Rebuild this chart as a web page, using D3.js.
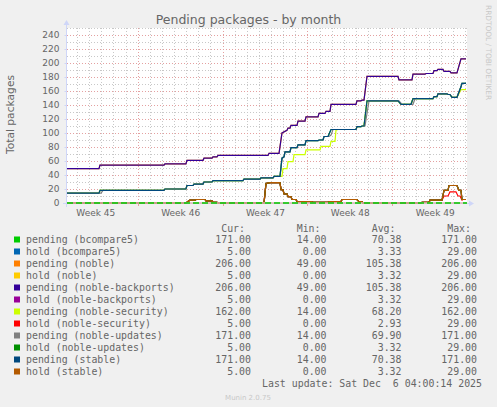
<!DOCTYPE html>
<html><head><meta charset="utf-8">
<script src="https://cdn.jsdelivr.net/npm/d3@7"></script>
<style>
html,body{margin:0;padding:0;background:#F0F0F0;}
svg{display:block;}
text{font-family:"DejaVu Sans",sans-serif;fill:#666;}
.mono{font-family:"DejaVu Sans Mono",monospace;white-space:pre;}
</style></head><body>
<svg id="c" width="497" height="407"></svg>
<script>
const title = "Pending packages - by month";
const yLabel = "Total packages";
const yTicks = [0,20,40,60,80,100,120,140,160,180,200,220,240];
const startTime = "2025-11-03 04:00:14";
const endTime = "2025-12-06 04:00:14";
const lastUpdate = "Last update: Sat Dec  6 04:00:14 2025";
const footer = "Munin 2.0.75";
const sideText = "RRDTOOL / TOBI OETIKER";

const pendingStable = [
["11-03 04:00",14],["11-05 19:20",14],["11-05 21:20",18],["11-11 04:00",18],["11-11 06:00",20],
["11-12 23:30",20],["11-13 01:30",25],["11-13 13:30",25],["11-13 15:30",27],["11-14 09:20",27],
["11-14 11:15",30],["11-15 03:05",30],["11-15 05:05",32],["11-17 16:30",32],["11-17 18:30",34],
["11-19 02:10",34],["11-19 04:10",36],["11-20 03:55",36],["11-20 05:55",38],["11-20 17:45",38],
["11-20 21:40",64],["11-21 01:40",66],["11-21 03:40",73],["11-21 13:30",73],["11-21 15:30",79],
["11-22 03:25",79],["11-22 05:25",83],["11-22 19:15",83],["11-22 21:15",89],["11-23 21:00",89],
["11-23 23:00",90],["11-24 06:55",90],["11-24 08:55",95],["11-24 16:50",95],["11-24 22:45",105],
["11-27 00:10",105],["11-27 02:10",109],["11-27 10:05",109],["11-27 12:05",110],["11-27 16:05",110],
["11-27 22:00",146],["11-30 11:25",146],["11-30 17:20",141],["12-01 13:05",141],["12-01 17:05",149],
["12-03 08:40",149],["12-03 10:40",152],["12-03 16:35",152],["12-03 18:35",156],["12-04 12:25",156],
["12-04 14:25",155],["12-04 18:20",155],["12-04 22:20",151],["12-05 08:10",151],["12-05 16:05",166],
["12-05 18:05",171],["12-06 02:00",171]
];

const pendingUpdates = [
["11-03 04:00",14],["11-05 23:20",14],["11-06 03:20",18],["11-11 04:00",18],["11-11 06:00",20],
["11-12 23:30",20],["11-13 01:30",25],["11-13 13:30",25],["11-13 15:30",27],["11-14 09:20",27],
["11-14 11:15",30],["11-15 03:05",30],["11-15 05:05",32],["11-17 16:30",32],["11-17 18:30",34],
["11-19 02:10",34],["11-19 04:10",36],["11-20 03:55",36],["11-20 05:55",38],["11-20 17:45",38],
["11-20 21:40",64],["11-21 01:40",66],["11-21 03:40",73],["11-21 13:30",73],["11-21 15:30",79],
["11-22 03:25",79],["11-22 05:25",83],["11-22 19:15",83],["11-22 21:15",89],["11-23 21:00",89],
["11-23 23:00",90],["11-24 06:55",90],["11-24 08:55",95],["11-24 18:45",95],["11-24 22:45",97],
["11-25 02:40",105],["11-27 00:10",105],["11-27 02:10",109],["11-27 10:05",109],["11-27 12:05",110],
["11-27 18:00",110],["11-28 02:00",146],["11-30 13:20",146],["11-30 19:20",141],["12-01 17:05",141],
["12-01 21:05",149],["12-03 08:40",149],["12-03 10:40",152],["12-03 16:35",152],["12-03 18:35",156],
["12-04 12:25",156],["12-04 14:25",155],["12-04 18:20",155],["12-04 22:20",151],["12-05 08:10",151],
["12-05 16:05",166],["12-05 18:05",171],["12-06 02:00",171]
];

const pendingSecurity = [
["11-03 04:00",14],["11-05 19:20",14],["11-05 21:20",18],["11-11 04:00",18],["11-11 06:00",20],
["11-12 23:30",20],["11-13 01:30",25],["11-13 13:30",25],["11-13 15:30",27],["11-14 09:20",27],
["11-14 11:15",30],["11-15 03:05",30],["11-15 05:05",32],["11-17 16:30",32],["11-17 18:30",34],
["11-19 02:10",34],["11-19 04:10",36],["11-20 03:55",36],["11-20 05:55",38],["11-20 21:40",38],
["11-20 23:40",49],["11-21 07:35",49],["11-21 09:35",59],["11-21 19:30",59],["11-21 21:30",69],
["11-22 19:15",69],["11-22 21:15",76],["11-24 01:00",76],["11-24 03:00",81],["11-24 20:45",81],
["11-24 22:45",88],["11-25 06:40",88],["11-25 08:35",104],["11-25 12:35",105],["11-27 00:10",105],
["11-27 02:10",109],["11-27 10:05",109],["11-27 12:05",110],["11-27 16:05",110],["11-27 22:00",146],
["11-30 11:25",146],["11-30 17:20",141],["12-01 13:05",141],["12-01 17:05",149],["12-03 08:40",149],
["12-03 10:40",152],["12-03 16:35",152],["12-03 18:35",156],["12-04 12:25",156],["12-04 14:25",155],
["12-04 18:20",155],["12-04 22:20",151],["12-05 08:10",151],["12-05 16:05",162],["12-06 02:00",162]
];

const pendingNoble = [
["11-03 04:00",49],["11-05 19:20",49],["11-05 21:20",54],["11-11 04:00",54],["11-11 06:00",56],
["11-12 23:30",56],["11-13 01:30",61],["11-14 09:20",61],["11-14 11:15",64],["11-15 03:05",64],
["11-15 05:05",66],["11-15 13:00",66],["11-15 15:00",68],["11-19 18:00",68],["11-19 20:00",71],
["11-20 15:50",71],["11-20 21:40",100],["11-21 07:35",104],["11-21 09:35",107],["11-21 13:30",107],
["11-21 15:30",111],["11-22 03:25",111],["11-22 05:25",117],["11-22 19:15",117],["11-22 21:15",123],
["11-23 21:00",123],["11-23 23:00",128],["11-24 10:50",128],["11-24 12:50",131],["11-24 20:45",131],
["11-24 22:45",141],["11-27 00:10",141],["11-27 02:10",146],["11-27 10:05",146],["11-27 12:05",147],
["11-27 16:05",147],["11-27 22:00",181],["11-30 11:25",181],["11-30 13:20",176],["12-01 15:05",176],
["12-01 17:05",184],["12-02 16:50",184],["12-02 18:50",185],["12-03 08:40",185],["12-03 10:40",189],
["12-03 16:35",189],["12-03 18:35",191],["12-04 04:30",191],["12-04 06:30",188],["12-04 18:20",188],
["12-04 20:20",186],["12-05 08:10",186],["12-05 16:05",206],["12-06 02:00",206]
];

const holdStable = [
["11-03 04:00",0],["11-12 23:30",0],["11-13 03:30",2],["11-13 07:30",4],["11-13 17:30",4],
["11-13 19:30",5],["11-14 13:15",5],["11-14 15:10",3],["11-15 03:05",3],["11-15 05:05",1],
["11-15 13:00",1],["11-15 15:00",0],["11-19 10:05",0],["11-19 14:00",28],["11-19 22:00",29],
["11-20 17:45",29],["11-20 19:45",19],["11-20 23:40",19],["11-21 01:40",13],["11-21 07:35",13],
["11-21 09:35",9],["11-21 15:30",9],["11-21 17:30",5],["11-22 01:25",5],["11-22 03:25",2],
["11-23 09:05",2],["11-23 11:05",1],["11-24 16:50",1],["11-24 18:45",2],["11-25 18:30",2],
["11-25 20:30",5],["11-27 02:10",5],["11-27 06:10",2],["11-27 12:05",2],["11-27 14:05",0],
["12-02 08:55",0],["12-02 10:55",1],["12-03 00:45",1],["12-03 02:45",4],["12-04 02:30",4],
["12-04 06:30",18],["12-04 14:25",18],["12-04 16:20",25],["12-05 08:10",25],["12-05 12:10",18],
["12-05 16:05",18],["12-05 18:05",5],["12-06 02:00",5]
];

const holdSecurity = [
["11-03 04:00",0],["11-12 23:30",0],["11-13 03:30",2],["11-13 07:30",4],["11-13 17:30",4],
["11-13 19:30",5],["11-14 13:15",5],["11-14 15:10",3],["11-15 03:05",3],["11-15 05:05",1],
["11-15 13:00",1],["11-15 15:00",0],["11-19 10:05",0],["11-19 14:00",28],["11-19 22:00",29],
["11-20 17:45",29],["11-20 19:45",19],["11-20 23:40",19],["11-21 01:40",13],["11-21 07:35",13],
["11-21 09:35",9],["11-21 15:30",9],["11-21 17:30",5],["11-22 01:25",5],["11-22 03:25",2],
["11-23 09:05",2],["11-23 11:05",1],["11-24 16:50",1],["11-24 18:45",2],["11-25 18:30",2],
["11-25 20:30",5],["11-27 02:10",5],["11-27 06:10",2],["11-27 12:05",2],["11-27 14:05",0],
["12-02 08:55",0],["12-02 10:55",1],["12-03 00:45",1],["12-03 02:45",4],["12-04 02:30",4],
["12-04 06:30",10],["12-04 14:25",10],["12-04 18:20",16],["12-05 06:10",16],["12-05 10:10",10],
["12-05 14:10",10],["12-05 18:05",4],["12-05 20:05",5],["12-06 02:00",5]
];

const seriesNames = ["pending (bcompare5)","hold (bcompare5)","pending (noble)","hold (noble)",
"pending (noble-backports)","hold (noble-backports)","pending (noble-security)","hold (noble-security)",
"pending (noble-updates)","hold (noble-updates)","pending (stable)","hold (stable)"];
const seriesColors = ["#00CC00","#0066B3","#FF8000","#FFCC00","#330099","#990099",
"#CCFF00","#FF0000","#808080","#008F00","#00487D","#B35A00"];
const seriesData = [pendingStable, holdStable, pendingNoble, holdStable, pendingNoble, holdStable,
pendingSecurity, holdSecurity, pendingUpdates, holdStable, pendingStable, holdStable];
const curVals = [171,5,206,5,206,5,162,5,171,5,171,5];
const minVals = [14,0,49,0,49,0,14,0,14,0,14,0];
const avgVals = [70.38,3.33,105.38,3.32,105.38,3.32,68.20,2.93,69.90,3.32,70.38,3.32];
const maxVals = [171,29,206,29,206,29,162,29,171,29,171,29];
const colHeads = ["Cur:","Min:","Avg:","Max:"];

// ---------- drawing ----------
const svg = d3.select("#c");
const fullParse = d3.timeParse("%Y-%m-%d %H:%M:%S");
const parse = d3.timeParse("%Y-%m-%d %H:%M");
const T = s => parse("2025-" + s);
const start = fullParse(startTime), end = fullParse(endTime);
const L = 67, R = 467, TOP = 28, BOT = 203;
const x = d3.scaleTime().domain([start, end]).range([L, R]);
const y = d3.scaleLinear().domain([0, 250]).range([BOT, TOP]);

svg.append("rect").attr("width",497).attr("height",407).attr("fill","#F0F0F0");
svg.append("rect").attr("x",L).attr("y",TOP).attr("width",R-L).attr("height",BOT-TOP).attr("fill","#FFFFFF");

const grid = svg.append("g").attr("shape-rendering","crispEdges");
const minorY = d3.range(10, 251, 10);
grid.selectAll(".hmin").data(minorY).join("line")
  .attr("x1",L).attr("x2",R).attr("y1",d=>Math.round(y(d))+0.5).attr("y2",d=>Math.round(y(d))+0.5)
  .attr("stroke","#C8C8C8").attr("stroke-dasharray","1,2");
const days = d3.timeDay.range(d3.timeDay.ceil(start), end);
grid.selectAll(".vmin").data(days).join("line")
  .attr("y1",TOP).attr("y2",BOT).attr("x1",d=>Math.round(x(d))+0.5).attr("x2",d=>Math.round(x(d))+0.5)
  .attr("stroke","#C8C8C8").attr("stroke-dasharray","1,2");
grid.selectAll(".hmaj").data(yTicks.filter(v=>v>0)).join("line")
  .attr("x1",L).attr("x2",R).attr("y1",d=>Math.round(y(d))+0.5).attr("y2",d=>Math.round(y(d))+0.5)
  .attr("stroke","#E4A0A0").attr("stroke-dasharray","1,2");
const sundays = d3.timeSunday.range(d3.timeSunday.ceil(start), end);
grid.selectAll(".vmaj").data(sundays).join("line")
  .attr("y1",TOP).attr("y2",BOT).attr("x1",d=>Math.round(x(d))+0.5).attr("x2",d=>Math.round(x(d))+0.5)
  .attr("stroke","#E4A0A0").attr("stroke-dasharray","1,2");
// small ticks below axis
grid.selectAll(".vt").data(sundays).join("line")
  .attr("y1",BOT+1).attr("y2",BOT+3).attr("x1",d=>Math.round(x(d))+0.5).attr("x2",d=>Math.round(x(d))+0.5)
  .attr("stroke","#E4A0A0");

// axes (light blue) with arrows
const axisC = "#CFD6F8";
svg.append("line").attr("x1",63).attr("x2",470).attr("y1",BOT+0.5).attr("y2",BOT+0.5).attr("stroke",axisC);
svg.append("path").attr("d","M469,200.5L474,203.5L469,206.5Z").attr("fill",axisC);
svg.append("line").attr("x1",L-0.5).attr("x2",L-0.5).attr("y1",207).attr("y2",24).attr("stroke",axisC);
svg.append("path").attr("d","M63.5,25L66.5,20L69.5,25Z").attr("fill",axisC);

// y axis labels
const yAxis = d3.axisLeft(y).tickValues(yTicks).tickSize(2).tickPadding(5).tickFormat(d3.format("d"));
const ya = svg.append("g").attr("transform",`translate(${L-0.5},0)`).call(yAxis);
ya.select(".domain").remove();
ya.selectAll(".tick line").attr("stroke",axisC);
ya.selectAll("text").attr("fill","#666").style("font-family","DejaVu Sans").style("font-size","9px");

// x axis labels (week labels centred mid-week)
const weekMids = d3.timeSunday.range(d3.timeSunday.floor(start), end)
  .map(d => d3.timeHour.offset(d, 84)).filter(d => d > start && d < end);
const fmtW = d3.timeFormat("%V");
const xAxis = d3.axisBottom(x).tickValues(weekMids).tickSize(0).tickPadding(6).tickFormat(d => "Week " + fmtW(d));
const xa = svg.append("g").attr("transform",`translate(0,${BOT+1})`).call(xAxis);
xa.select(".domain").remove();
xa.selectAll("text").attr("fill","#666").style("font-family","DejaVu Sans").style("font-size","9px");

// lines
const line = d3.line().x(d => x(T(d[0]))).y(d => y(d[1]));
svg.append("g").selectAll("path").data(seriesData).join("path")
  .attr("d", d => line(d)).attr("fill","none")
  .attr("stroke",(d,i) => seriesColors[i]).attr("stroke-width",1.2);

// zero baseline
svg.append("line").attr("x1",L).attr("x2",R).attr("y1",y(0)).attr("y2",y(0))
  .attr("stroke","#DDB4B4").attr("stroke-width",1.3);
svg.append("line").attr("x1",L).attr("x2",R).attr("y1",y(0)).attr("y2",y(0))
  .attr("stroke","#00CC00").attr("stroke-width",1.3).attr("stroke-dasharray","6,3");

// title & labels
svg.append("text").attr("x",248.5).attr("y",24).attr("text-anchor","middle")
  .style("font-size","12.5px").text(title);
svg.append("text").attr("transform","translate(14,114.5) rotate(-90)").attr("text-anchor","middle")
  .style("font-size","10.7px").text(yLabel);
svg.append("text").attr("transform","translate(485.5,5) rotate(90)").attr("text-anchor","start")
  .style("font-size","7.4px").attr("fill","#C8C8C8").style("fill","#C8C8C8").text(sideText);

// legend
const lg = svg.append("g");
const colEnds = [251, 326.5, 401.5, 477];
const headEnds = [245, 320.5, 395.5, 471];
colHeads.forEach((h,i) => lg.append("text").attr("class","mono").attr("x",headEnds[i]).attr("y",231.5)
  .attr("text-anchor","end").style("font-size","9.9px").text(h));
const rowY = i => 243 + i*12;
const rows = lg.selectAll(".row").data(seriesNames).join("g");
rows.append("rect").attr("x",14).attr("y",(d,i)=>rowY(i)-6.5).attr("width",6).attr("height",6)
  .attr("fill",(d,i)=>seriesColors[i]);
rows.append("text").attr("class","mono").attr("x",26).attr("y",(d,i)=>rowY(i))
  .style("font-size","9.9px").text(d=>d);
[curVals,minVals,avgVals,maxVals].forEach((arr,c) => {
  rows.append("text").attr("class","mono").attr("x",colEnds[c]).attr("y",(d,i)=>rowY(i))
    .attr("text-anchor","end").style("font-size","9.9px").text((d,i)=>arr[i].toFixed(2));
});
lg.append("text").attr("class","mono").attr("x",482).attr("y",387).attr("text-anchor","end")
  .style("font-size","9.9px").text(lastUpdate);
svg.append("text").attr("x",248).attr("y",400).attr("text-anchor","middle")
  .style("font-size","7px").style("fill","#C8C8C8").text(footer);
</script>
</body></html>
